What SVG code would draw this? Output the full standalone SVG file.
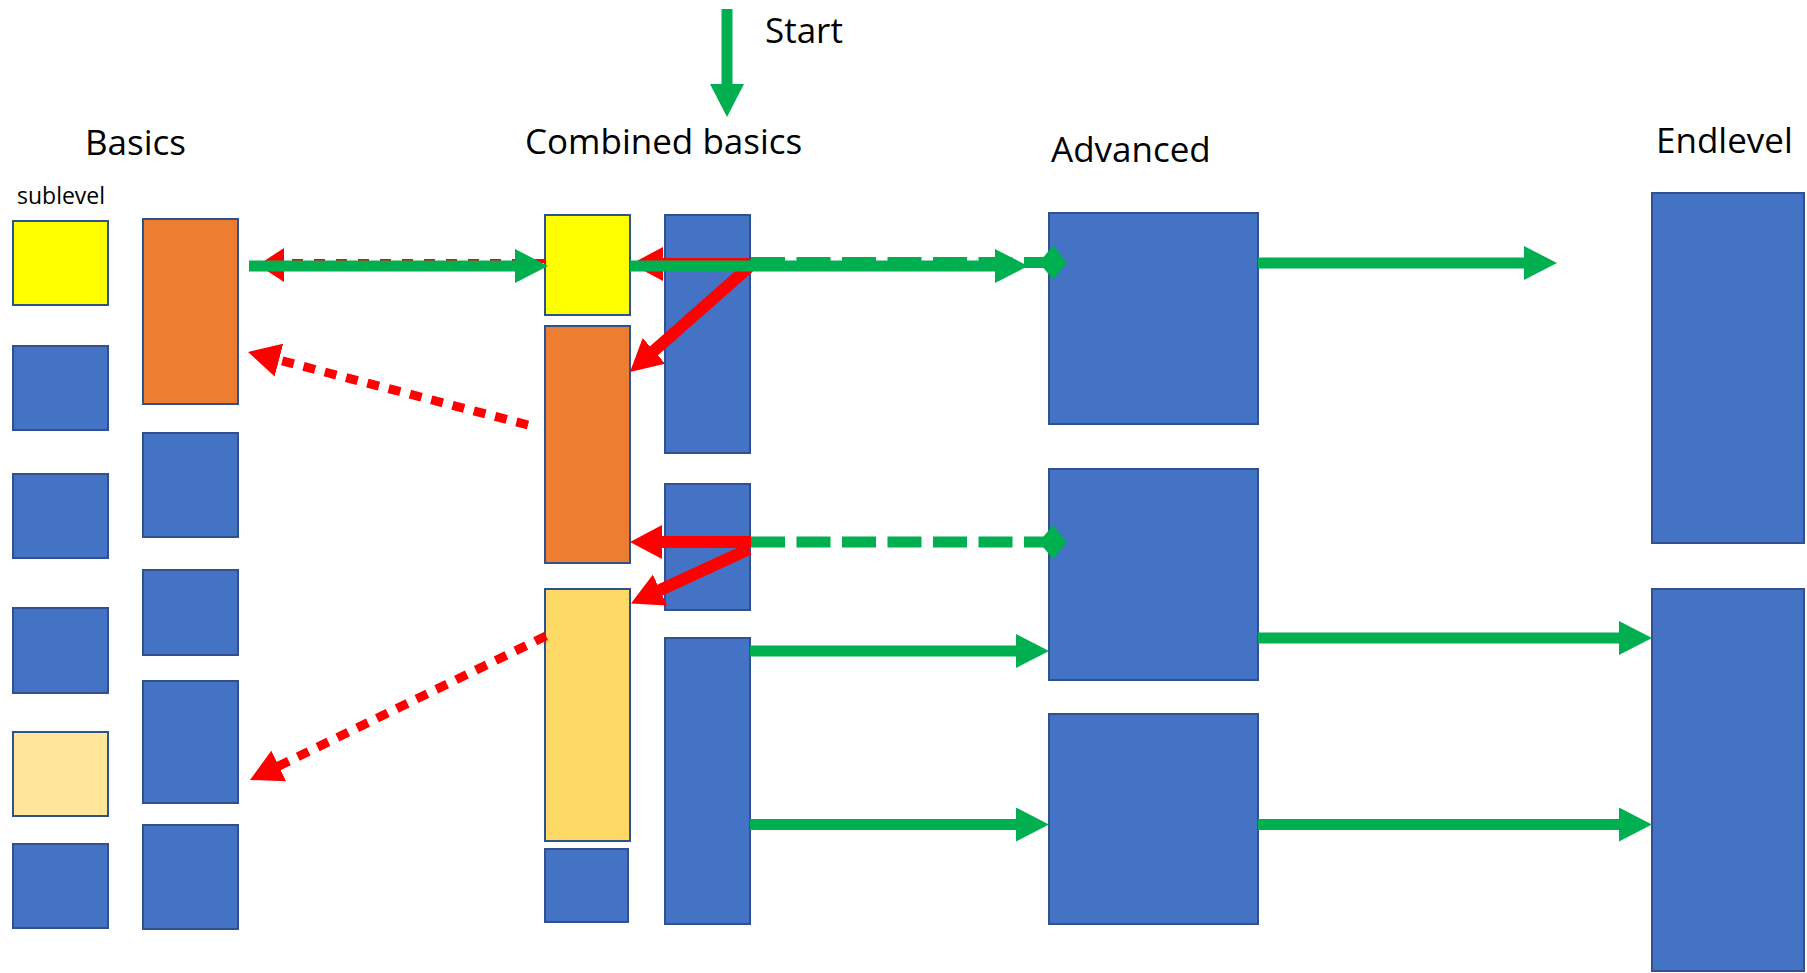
<svg xmlns="http://www.w3.org/2000/svg" width="1807" height="973" viewBox="0 0 1807 973">
<style>
  .lbl{font-family:"Open Sans","Liberation Sans",sans-serif;font-size:35px;fill:#000}
  .sub{font-family:"Open Sans","Liberation Sans",sans-serif;font-size:23px;fill:#000}
  rect{stroke:#2F528F;stroke-width:2}
  .blue{fill:#4472C4}
  .yel{fill:#FFFF00}
  .org{fill:#ED7D31}
  .ly1{fill:#FFE699}
  .ly2{fill:#FFD966}
  .g{stroke:#00B050;stroke-width:11;fill:none}
  .gd{stroke:#00B050;stroke-width:11;fill:none;stroke-dasharray:34 11.5}
  .r{stroke:#FF0000;stroke-width:12;fill:none}
  .rd{stroke:#FF0000;stroke-width:9;fill:none;stroke-dasharray:12 10}
  .rt{stroke:#FF0000;stroke-width:4;fill:none;stroke-dasharray:11 11}
</style>
<defs>
  <marker id="ga" viewBox="0 0 33 34" refX="1" refY="17" markerWidth="33" markerHeight="34" markerUnits="userSpaceOnUse" orient="auto">
    <path d="M0,0 L33,17 L0,34 z" fill="#00B050"/>
  </marker>
  <marker id="gdm" viewBox="0 0 28 34" refX="14" refY="17" markerWidth="28" markerHeight="34" markerUnits="userSpaceOnUse" orient="auto">
    <path d="M0,17 L14,0 L28,17 L14,34 z" fill="#00B050"/>
  </marker>
  <marker id="ra" viewBox="0 0 32 34" refX="1" refY="17" markerWidth="32" markerHeight="34" markerUnits="userSpaceOnUse" orient="auto">
    <path d="M0,0 L32,17 L0,34 z" fill="#FF0000"/>
  </marker>
  <marker id="ra2" viewBox="0 0 26 34" refX="1" refY="21" markerWidth="26" markerHeight="34" markerUnits="userSpaceOnUse" orient="auto" overflow="visible">
    <path d="M0,0 L26,17 L0,34 z" fill="#FF0000"/>
  </marker>
</defs>

<g id="labels">
  <text class="lbl" x="765" y="43">Start</text>
  <text class="lbl" x="85" y="155">Basics</text>
  <text class="lbl" x="525" y="154">Combined basics</text>
  <text class="lbl" x="1051" y="162">Advanced</text>
  <text class="lbl" x="1656" y="153">Endlevel</text>
  <text class="sub" x="17" y="204">sublevel</text>
</g>

<g id="basics-col1">
  <g id="b1"><rect class="yel" x="13" y="221" width="95" height="84"/></g>
  <g id="b2"><rect class="blue" x="13" y="346" width="95" height="84"/></g>
  <g id="b3"><rect class="blue" x="13" y="474" width="95" height="84"/></g>
  <g id="b4"><rect class="blue" x="13" y="608" width="95" height="85"/></g>
  <g id="b5"><rect class="ly1" x="13" y="732" width="95" height="84"/></g>
  <g id="b6"><rect class="blue" x="13" y="844" width="95" height="84"/></g>
</g>
<g id="basics-col2">
  <g id="b7"><rect class="org" x="143" y="219" width="95" height="185"/></g>
  <g id="b8"><rect class="blue" x="143" y="433" width="95" height="104"/></g>
  <g id="b9"><rect class="blue" x="143" y="570" width="95" height="85"/></g>
  <g id="b10"><rect class="blue" x="143" y="681" width="95" height="122"/></g>
  <g id="b11"><rect class="blue" x="143" y="825" width="95" height="104"/></g>
</g>
<g id="combined-col1">
  <g id="c1"><rect class="yel" x="545" y="215" width="85" height="100"/></g>
  <g id="c2"><rect class="org" x="545" y="326" width="85" height="237"/></g>
  <g id="c3"><rect class="ly2" x="545" y="589" width="85" height="252"/></g>
  <g id="c4"><rect class="blue" x="545" y="849" width="83" height="73"/></g>
</g>
<g id="combined-col2">
  <g id="c5"><rect class="blue" x="665" y="215" width="85" height="238"/></g>
  <g id="c6"><rect class="blue" x="665" y="484" width="85" height="126"/></g>
  <g id="c7"><rect class="blue" x="665" y="638" width="85" height="286"/></g>
</g>
<g id="advanced">
  <g id="a1"><rect class="blue" x="1049" y="213" width="209" height="211"/></g>
  <g id="a2"><rect class="blue" x="1049" y="469" width="209" height="211"/></g>
  <g id="a3"><rect class="blue" x="1049" y="714" width="209" height="210"/></g>
</g>
<g id="endlevel">
  <g id="e1"><rect class="blue" x="1652" y="193" width="152" height="350"/></g>
  <g id="e2"><rect class="blue" x="1652" y="589" width="152" height="382"/></g>
</g>

<g id="connectors">
  <!-- red -->
  <line class="rt" x1="545" y1="261" x2="283" y2="261" marker-end="url(#ra2)"/>
  <line class="r" x1="750" y1="264" x2="662" y2="264" marker-end="url(#ra)"/>
  <line class="r" x1="749" y1="267" x2="653.2" y2="351.5" marker-end="url(#ra)"/>
  <line class="r" x1="751" y1="542" x2="661" y2="542" marker-end="url(#ra)"/>
  <line class="r" x1="749" y1="549" x2="659.1" y2="590.5" marker-end="url(#ra)"/>
  <line class="rd" x1="528" y1="425" x2="278" y2="359.8" marker-end="url(#ra)"/>
  <line class="rd" x1="546" y1="636" x2="277.9" y2="766.4" marker-end="url(#ra)"/>
  <!-- green -->
  <line class="g" x1="727" y1="9" x2="727" y2="85" marker-end="url(#ga)"/>
  <line class="g" x1="249" y1="266" x2="516" y2="266" marker-end="url(#ga)"/>
  <line class="gd" x1="751" y1="262.5" x2="1053" y2="262.5" marker-end="url(#gdm)"/>
  <line class="g" x1="630" y1="266" x2="996" y2="266" marker-end="url(#ga)"/>
  <line class="gd" x1="751" y1="542" x2="1053" y2="542" marker-end="url(#gdm)"/>
  <line class="g" x1="1258" y1="263" x2="1525" y2="263" marker-end="url(#ga)"/>
  <line class="g" x1="750" y1="651" x2="1017" y2="651" marker-end="url(#ga)"/>
  <line class="g" x1="750" y1="824.5" x2="1017" y2="824.5" marker-end="url(#ga)"/>
  <line class="g" x1="1258" y1="638" x2="1620" y2="638" marker-end="url(#ga)"/>
  <line class="g" x1="1258" y1="824.5" x2="1620" y2="824.5" marker-end="url(#ga)"/>
</g>
</svg>
